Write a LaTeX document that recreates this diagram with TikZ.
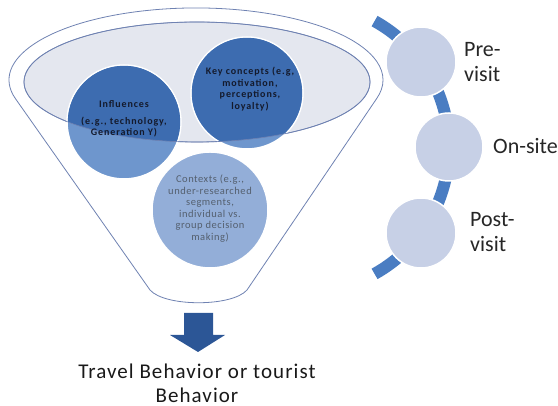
\documentclass[tikz,border=0pt]{standalone}
\usepackage{fontspec}
\setmainfont{Carlito}
\definecolor{funnelline}{HTML}{6F82B2}
\definecolor{ellfill}{HTML}{E4E7EF}
\definecolor{darkcirc}{HTML}{3D6CB0}
\definecolor{lightcirc}{HTML}{6E96CD}
\definecolor{ctxfill}{HTML}{93AED8}
\definecolor{stagefill}{HTML}{C7D0E6}
\definecolor{stagearc}{HTML}{4A7DC2}
\definecolor{arrowblue}{HTML}{2C5696}
\definecolor{textdark}{HTML}{141A2C}
\definecolor{ctxtext}{HTML}{55606F}
\begin{document}
\begin{tikzpicture}[x=1pt,y=1pt,
  outline/.style={draw=funnelline, line width=0.8pt},
  bigcirc/.style={circle, draw=white, line width=1.5pt, inner sep=0pt},
  stagecirc/.style={circle, fill=stagefill, draw=white, line width=1.5pt, minimum size=70pt, inner sep=0pt},
  stagelabel/.style={font=\fontsize{22}{25}\selectfont, text=black!85, align=left, anchor=west, inner sep=0pt},
  smalltxt/.style={font=\fontsize{10}{11.5}\selectfont\bfseries\addfontfeature{LetterSpace=9}, align=center, text=textdark, inner sep=0pt},
  ctxtxt/.style={font=\fontsize{10.5}{11.5}\selectfont\addfontfeature{LetterSpace=5}, align=center, text=ctxtext, inner sep=0pt},
]
\useasboundingbox (0,0) rectangle (558,406);
% funnel
\draw[outline, fill=white] (150,116) -- (15.4,307.4)
  arc[start angle=195, end angle=-15, x radius=187, y radius=72]
  -- (247,116) .. controls (232,99) and (165,99) .. (150,116);
% inner ellipse (funnel mouth)
\draw[outline, fill=ellfill] (197,324) ellipse [x radius=173, y radius=60];
% circles
\node[bigcirc, fill=lightcirc, minimum size=114pt] (infl) at (124,284) {};
\node[bigcirc, fill=lightcirc, minimum size=112pt] (key) at (247,313) {};
\node[bigcirc, fill=ctxfill, minimum size=116pt] (ctx) at (210,196) {};
\begin{scope}
  \clip (197,324) ellipse [x radius=173, y radius=60];
  \fill[darkcirc] (infl.center) circle (56.2);
  \fill[darkcirc] (key.center) circle (55.2);
\end{scope}
\draw[draw=funnelline, line width=0.6pt] (197,324) ellipse [x radius=173, y radius=60];
% texts in circles
\node[smalltxt] (infltext) at (124,287) {Influences\\[5pt](e.g., technology,\\Generation Y)};
\node[smalltxt] (keytext) at (250,317) {Key concepts (e.g,\\motivation,\\perceptions,\\loyalty)};
\node[ctxtxt] (ctxtext) at (210,197.5) {Contexts (e.g.,\\under-researched\\segments,\\individual vs.\\group decision\\making)};
% stages
\draw[stagearc, line width=12pt] (304.5,258.5) ++(61:144.5) arc[start angle=61, end angle=-61, radius=144.5];
\node[stagecirc] (pre) at (421,344) {};
\node[stagecirc, minimum size=68pt] (onsite) at (449,259) {};
\node[stagecirc] (post) at (421,173) {};
\node[stagelabel] (prelabel) at (464,343.5) {Pre-\\visit};
\node[stagelabel] (onlabel) at (493,260) {On-site};
\node[stagelabel] (postlabel) at (470,173.5) {Post-\\visit};
% arrow
\fill[arrowblue] (184,93) -- (213,93) -- (213,71) -- (225,71) -- (198,54) -- (170,71) -- (184,71) -- cycle;
\node[font=\fontsize{21}{24}\selectfont\addfontfeature{LetterSpace=5}, align=center, inner sep=0pt, text=black!90] (result) at (197,23) {Travel Behavior or tourist\\Behavior};
\end{tikzpicture}
\end{document}
